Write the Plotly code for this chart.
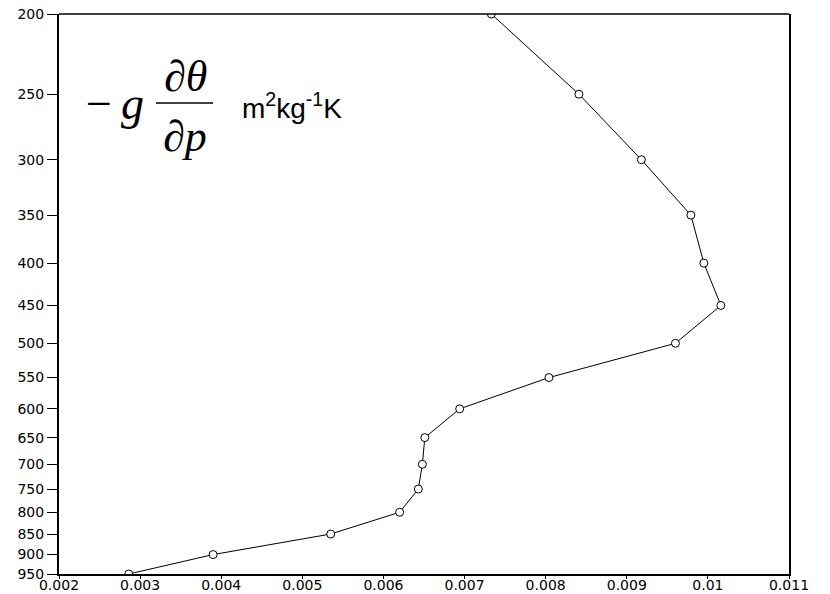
import numpy as np
import plotly.graph_objects as go

pressure = [200, 250, 300, 350, 400, 450, 500, 550, 600, 650, 700, 750, 800, 850, 900, 950]
stability = [0.00733, 0.00841, 0.00918, 0.00979, 0.00995, 0.01016, 0.00960, 0.00804,
             0.00694, 0.00651, 0.00648, 0.00643, 0.00620, 0.00535, 0.00390, 0.00286]

x_ticks = [0.002, 0.003, 0.004, 0.005, 0.006, 0.007, 0.008, 0.009, 0.010, 0.011]
x_labels = ["0.002", "0.003", "0.004", "0.005", "0.006", "0.007", "0.008", "0.009", "0.01", "0.011"]
y_ticks = [200, 250, 300, 350, 400, 450, 500, 550, 600, 650, 700, 750, 800, 850, 900, 950]
y_labels = [str(v) for v in y_ticks]

fig = go.Figure()
fig.add_trace(go.Scatter(
    x=stability, y=pressure, mode="lines+markers",
    line=dict(color="black", width=1),
    marker=dict(symbol="circle", size=8, color="white", line=dict(color="black", width=1)),
    showlegend=False,
))

tickfont = dict(family="DejaVu Sans", size=14, color="black")
fig.update_layout(
    width=830, height=594,
    margin=dict(l=59, r=41, t=14, b=20, autoexpand=False),
    paper_bgcolor="white", plot_bgcolor="white",
    xaxis=dict(range=[0.002, 0.011], tickvals=x_ticks, ticktext=x_labels, automargin=False,
               showgrid=False, zeroline=False, showline=True, linecolor="black", linewidth=2,
               ticks="outside", ticklen=3, tickwidth=1, tickcolor="black", tickfont=tickfont,
               ticklabelstandoff=-6),
    yaxis=dict(type="log", range=[np.log10(950), np.log10(200)], tickvals=y_ticks, ticktext=y_labels,
               automargin=False,
               showgrid=False, zeroline=False, showline=True, linecolor="black", linewidth=2,
               mirror=True,
               ticks="outside", ticklen=10, tickwidth=1, tickcolor="black", tickfont=tickfont),
    shapes=[
        dict(type="line", xref="paper", yref="paper", x0=0, x1=1, y0=1, y1=1,
             line=dict(color="black", width=1.3)),
        dict(type="line", xref="paper", yref="paper",
             x0=(156 - 59) / 730, x1=(213 - 59) / 730,
             y0=(574 - 103) / 560, y1=(574 - 103) / 560,
             line=dict(color="black", width=1.6)),
    ],
)

serif = "Liberation Serif, Times New Roman, serif"

def ann(text, xpx, ypx, size, family, italic=False, xanchor="center"):
    fig.add_annotation(
        text=text, xref="paper", yref="paper",
        x=(xpx - 59) / 730, y=(574 - ypx) / 560,
        xanchor=xanchor, yanchor="middle", showarrow=False,
        font=dict(family=family, size=size, color="black", style="italic" if italic else "normal"),
    )

ann("\u2212", 99, 103, 46, serif)
ann("g", 132, 103, 46, serif, italic=True)
ann("\u2202\u03b8", 185, 76, 44, serif, italic=True)
ann("\u2202p", 185, 136, 44, serif, italic=True)
ann("m<sup>2</sup>kg<sup>-1</sup>K", 240, 106, 28, "Liberation Sans, Arial, sans-serif", xanchor="left")

fig.write_html("out.html", config={"displayModeBar": False},
               post_script="document.body.style.margin='0';document.body.style.padding='0';")
